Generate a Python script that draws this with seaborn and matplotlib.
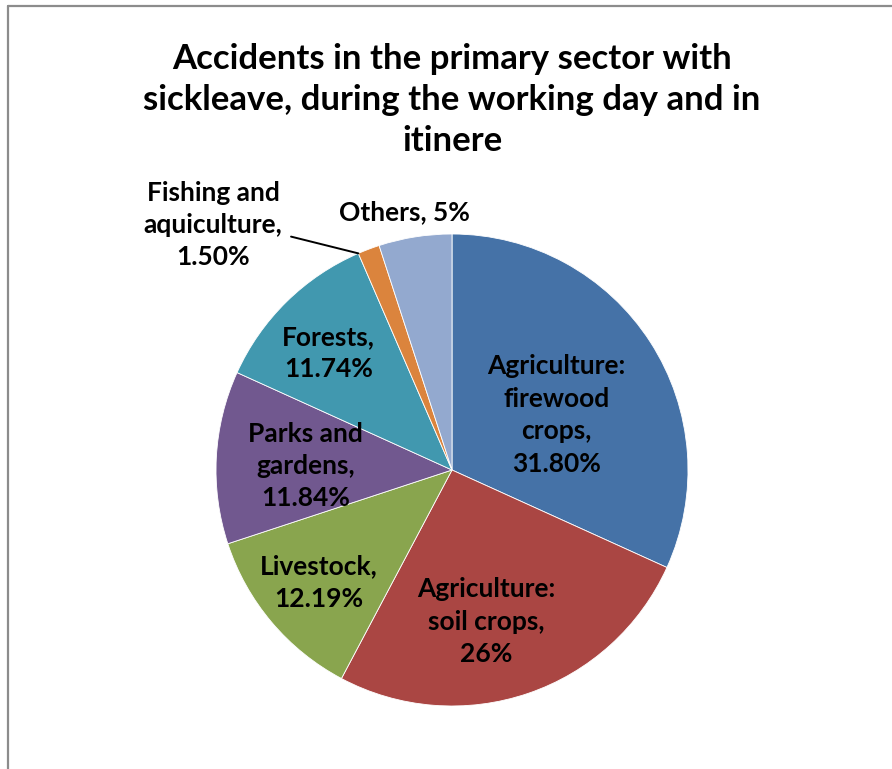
import numpy as np
import matplotlib
matplotlib.use("Agg")
import matplotlib.pyplot as plt
import seaborn as sns

# data
categories = ["Agriculture:\nfirewood\ncrops", "Agriculture:\nsoil crops", "Livestock",
              "Parks and\ngardens", "Forests", "Fishing and\naquiculture", "Others"]
shares = [31.80, 26.0, 12.19, 11.84, 11.74, 1.50, 5.0]
share_labels = ["31.80%", "26%", "12.19%", "11.84%", "11.74%", "1.50%", "5%"]
colors = ["#4572A7", "#AA4643", "#89A54E", "#71588F", "#4198AF", "#DB843D", "#93A9CF"]

sns.set_theme(style="white")
plt.rcParams['font.family'] = ['Lato', 'DejaVu Sans']
plt.rcParams['text.color'] = 'black'

W, H, dpi = 892, 769, 100
fig = plt.figure(figsize=(W / dpi, H / dpi), dpi=dpi)
ax = fig.add_axes([0, 0, 1, 1])

# pie centre (452, 470) px, radius 236 px
R = 236.0
cx, cy = 452.0, 470.0

wedges, _ = ax.pie(shares, colors=colors, startangle=90, counterclock=False,
                   radius=1.0, center=(0, 0), frame=True,
                   wedgeprops=dict(linewidth=0.6, edgecolor="white"))
ax.set_xlim(-cx / R, (W - cx) / R)
ax.set_ylim(-(H - cy) / R, cy / R)
ax.set_aspect("equal")
ax.axis("off")

# label radial distance for each slice (Excel places them irregularly)
label_r = [0.50, 0.66, 0.74, 0.62, 0.72, None, 1.11]
label_shift = [-5, -6, 0, 1.5, 2, 0, 1.5]

for i, w in enumerate(wedges):
    txt = f"{categories[i]},\n{share_labels[i]}"
    mid = np.deg2rad((w.theta1 + w.theta2) / 2 + label_shift[i])
    if label_r[i] is None:
        # small slice: label outside with leader line
        tip = (np.cos(np.deg2rad(w.theta2)), np.sin(np.deg2rad(w.theta2)))
        ax.annotate(txt, xy=tip, xytext=((213 - cx) / R, (cy - 225) / R),
                    ha="center", va="center", fontsize=19, fontweight="bold",
                    linespacing=1.42,
                    arrowprops=dict(arrowstyle="-", color="black", lw=1.4,
                                    shrinkA=4, shrinkB=0,
                                    connectionstyle="angle,angleA=0,angleB=-14,rad=0",
                                    relpos=(1.0, 0.5)))
        continue
    x, y = label_r[i] * np.cos(mid), label_r[i] * np.sin(mid)
    if categories[i] == "Others":
        txt = f"{categories[i]}, {share_labels[i]}"
    ax.text(x, y, txt, ha="center", va="center", fontsize=19,
            fontweight="bold", linespacing=1.42)

fig.text(cx / W, 1 - 100 / H,
         "Accidents in the primary sector with\nsickleave, during the working day and in\nitinere",
         ha="center", va="center", fontsize=25, fontweight="bold", linespacing=1.36)

# chart area border (only top and left edges visible in the crop)
fig.add_artist(plt.Line2D([8 / W, 8 / W], [0, 1 - 6 / H], color="#8c8c8c", lw=1.6))
fig.add_artist(plt.Line2D([8 / W, 1], [1 - 6 / H, 1 - 6 / H], color="#8c8c8c", lw=1.6))

fig.savefig("out.png", dpi=dpi, facecolor="white")
